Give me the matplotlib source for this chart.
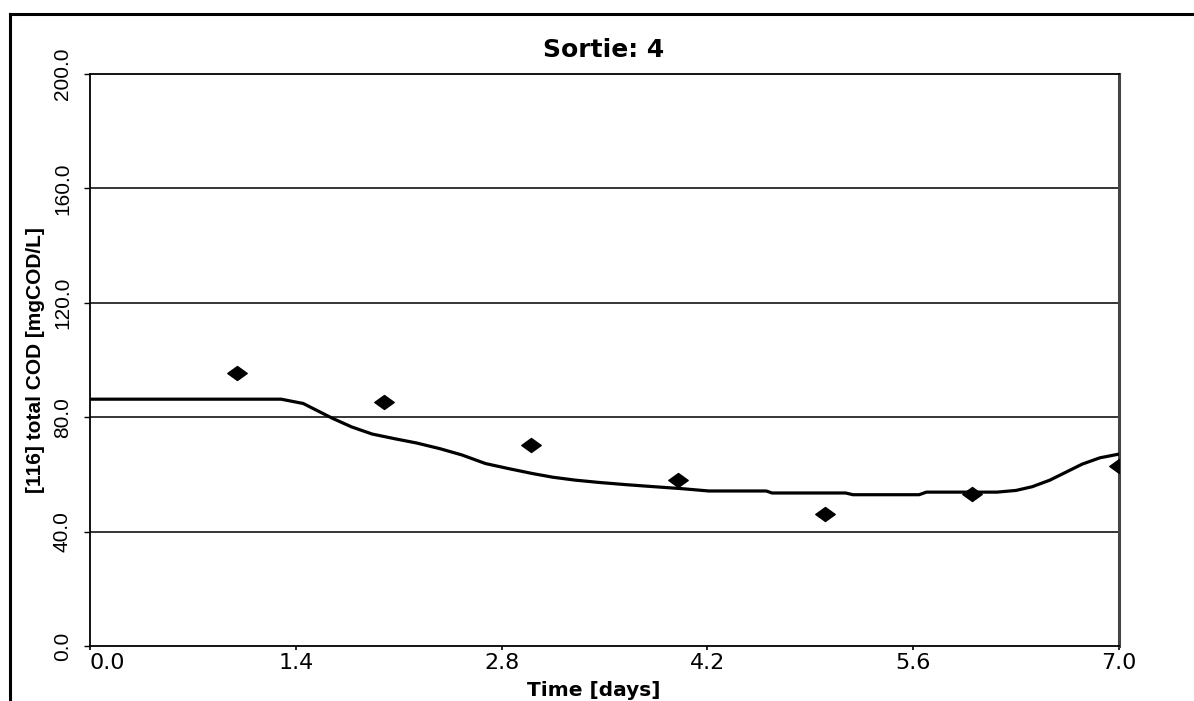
import matplotlib
matplotlib.use('Agg')
import matplotlib.pyplot as plt
from matplotlib import font_manager
from matplotlib.lines import Line2D
from matplotlib.path import Path

# Données mesurées (losanges)
time_meas = [1.0, 2.0, 3.0, 4.0, 5.0, 6.0, 7.0]
cod_meas = [95.3, 85.2, 70.4, 57.9, 46.3, 53.1, 62.8]

# Courbe du modèle
time_model = [0.0, 1.30, 1.45, 1.65, 1.78, 1.92, 2.08, 2.22, 2.38, 2.53, 2.69,
              2.85, 3.01, 3.15, 3.30, 3.46, 3.65, 3.81, 4.03, 4.21, 4.60, 4.64,
              5.14, 5.19, 5.64, 5.69, 6.17, 6.30, 6.41, 6.53, 6.64, 6.75, 6.87, 7.0]
cod_model = [86.3, 86.3, 84.8, 79.6, 76.6, 74.1, 72.4, 71.0, 69.0, 66.8, 63.8,
             62.0, 60.3, 59.0, 58.0, 57.2, 56.4, 55.8, 55.0, 54.2, 54.2, 53.5,
             53.5, 52.9, 52.9, 53.8, 53.8, 54.4, 55.7, 58.0, 60.8, 63.6, 65.8, 67.1]

x_ticks = [0.0, 1.4, 2.8, 4.2, 5.6, 7.0]
y_ticks = [0.0, 40.0, 80.0, 120.0, 160.0, 200.0]


def has_font(name):
    try:
        font_manager.findfont(name, fallback_to_default=False)
        return True
    except ValueError:
        return False


if has_font('Liberation Sans Narrow'):
    narrow, ytick_size, ylab_size = 'Liberation Sans Narrow', 17.5, 18
else:
    narrow, ytick_size, ylab_size = 'Liberation Sans', 15, 15

fig = plt.figure(figsize=(11.94, 7.01), dpi=100)
ax = fig.add_axes([90 / 1194, 1 - 646 / 701, 1029 / 1194, 572 / 701])

# losange plus large que haut
diamond = Path([(-1, 0), (0, 0.72), (1, 0), (0, -0.72), (-1, 0)],
               [Path.MOVETO, Path.LINETO, Path.LINETO, Path.LINETO, Path.CLOSEPOLY])

ax.plot(time_model, cod_model, color='black', lw=2.3, zorder=3)
ax.plot(time_meas, cod_meas, linestyle='none', marker=diamond, markersize=14,
        color='black', zorder=4)

ax.set_xlim(0, 7)
ax.set_ylim(0, 200)
ax.set_xticks(x_ticks)
ax.set_yticks(y_ticks)
ax.set_xticklabels([f'{v:.1f}' for v in x_ticks], family='DejaVu Sans', fontsize=16)
ax.get_xticklabels()[0].set_horizontalalignment('left')
ax.set_yticklabels([f'{v:.1f}' for v in y_ticks], rotation=90, va='center',
                   family=narrow, fontsize=ytick_size)
ax.tick_params(axis='x', direction='out', length=3, width=1.2, pad=2, colors='black')
ax.tick_params(axis='y', direction='out', length=4, width=1.0, pad=9, colors='black')

for v in y_ticks[1:-1]:
    ax.axhline(v, color='black', lw=1.1, zorder=1)

for s in ['left', 'bottom', 'top']:
    ax.spines[s].set_linewidth(1.3)
    ax.spines[s].set_color('black')
ax.spines['right'].set_linewidth(2.2)
ax.spines['right'].set_color('#444444')

ax.set_ylabel('[116] total COD [mgCOD/L]', family=narrow, fontweight='bold',
              fontsize=ylab_size, labelpad=6)

fig.text(604 / 1194, 1 - 57 / 701, 'Sortie: 4', ha='center', va='baseline',
         family='DejaVu Sans', fontweight='bold', fontsize=18)
fig.text(594 / 1194, 1 - 696 / 701, 'Time [days]', ha='center', va='baseline',
         family='DejaVu Sans', fontweight='bold', fontsize=14.5)

# cadre extérieur (haut et gauche)
fig.add_artist(Line2D([9.5 / 1194, 1], [1 - 13.5 / 701] * 2, color='black', lw=2.2))
fig.add_artist(Line2D([9.5 / 1194] * 2, [0, 1 - 13.5 / 701], color='black', lw=2.2))

fig.savefig('out.png', dpi=100)
